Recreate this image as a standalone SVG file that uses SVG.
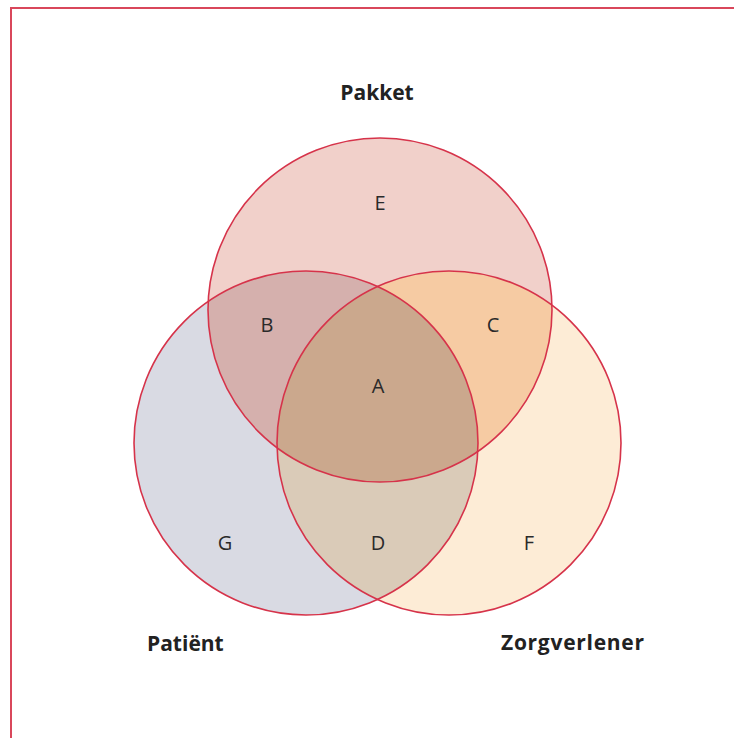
<svg xmlns="http://www.w3.org/2000/svg" width="734" height="738" viewBox="0 0 734 738">
<style>
.ring{fill:none;stroke:#d6334a;stroke-width:1.6}
.lbl{font-family:"Open Sans","Liberation Sans",sans-serif;font-size:20px;fill:#2a2a2a;text-anchor:middle}
.ttl{font-family:"Open Sans","Liberation Sans",sans-serif;font-size:21px;font-weight:bold;fill:#222}
</style>
<defs>
<clipPath id="clipT"><circle cx="380" cy="310" r="172"/></clipPath>
<clipPath id="clipL"><circle cx="306" cy="443" r="172"/></clipPath>
<clipPath id="clipTL" clip-path="url(#clipT)"><circle cx="306" cy="443" r="172"/></clipPath>
</defs>
<rect width="734" height="738" fill="#ffffff"/>
<g id="frame" stroke="#d9475b" stroke-width="2" fill="none">
<line x1="11" y1="8" x2="734" y2="8"/>
<line x1="11" y1="7" x2="11" y2="738"/>
</g>
<g id="regions">
<circle id="circle-pakket" cx="380" cy="310" r="172" fill="#f1d0ca"/>
<circle id="circle-patient" cx="306" cy="443" r="172" fill="#d9dae3"/>
<circle id="circle-zorgverlener" cx="449" cy="443" r="172" fill="#fdecd6"/>
<circle id="region-B" cx="306" cy="443" r="172" fill="#d5b0ad" clip-path="url(#clipT)"/>
<circle id="region-C" cx="449" cy="443" r="172" fill="#f6cba3" clip-path="url(#clipT)"/>
<circle id="region-D" cx="449" cy="443" r="172" fill="#dacbb8" clip-path="url(#clipL)"/>
<circle id="region-A" cx="449" cy="443" r="172" fill="#cba88d" clip-path="url(#clipTL)"/>
</g>
<g id="outlines">
<circle class="ring" cx="380" cy="310" r="172"/>
<circle class="ring" cx="306" cy="443" r="172"/>
<circle class="ring" cx="449" cy="443" r="172"/>
</g>
<g id="labels">
<text class="lbl" x="380" y="210">E</text>
<text class="lbl" x="267" y="332">B</text>
<text class="lbl" x="493" y="332">C</text>
<text class="lbl" x="378" y="393">A</text>
<text class="lbl" x="225" y="550">G</text>
<text class="lbl" x="378" y="550">D</text>
<text class="lbl" x="529" y="550">F</text>
</g>
<g id="titles">
<text id="t-pakket" class="ttl" x="377" y="100" text-anchor="middle">Pakket</text>
<text id="t-patient" class="ttl" x="147" y="651">Patiënt</text>
<text id="t-zorg" class="ttl" x="501" y="650" textLength="143">Zorgverlener</text>
</g>
</svg>
